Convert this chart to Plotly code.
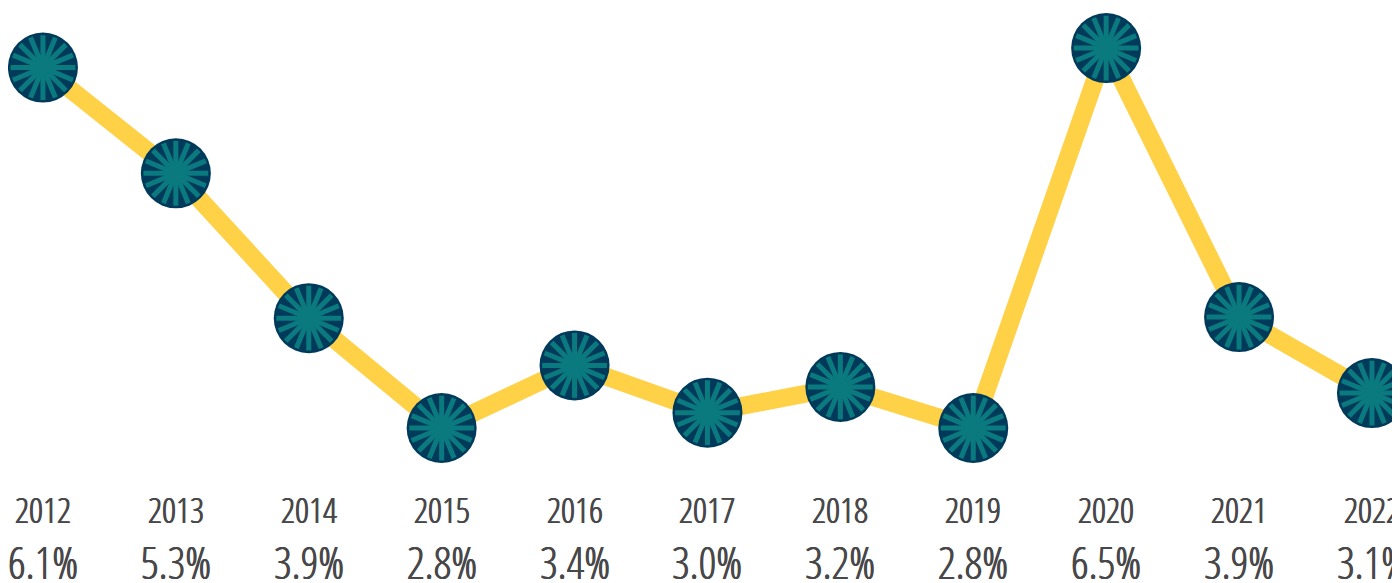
import plotly.graph_objects as go

years = [2012, 2013, 2014, 2015, 2016, 2017, 2018, 2019, 2020, 2021, 2022]
# plotted heights
rate_plotted = [6.31, 5.28, 3.87, 2.80, 3.41, 2.95, 3.20, 2.80, 6.50, 3.88, 3.14]
rate_labels = ["6.1%", "5.3%", "3.9%", "2.8%", "3.4%", "3.0%", "3.2%", "2.8%", "6.5%", "3.9%", "3.1%"]

LINE = "#FFD147"
NAVY = "#003A5B"
TEAL = "#0A7A7F"
TEXT = "#48484A"
FONT = "Open Sans Condensed Light, DejaVu Sans Condensed, sans-serif"
SHADOW = "0.45px 0 0 #48484A, -0.45px 0 0 #48484A"

W, H = 1392, 575

fig = go.Figure()
fig.add_trace(go.Scatter(x=years, y=rate_plotted, mode="lines",
                         line=dict(color=LINE, width=18), hoverinfo="skip"))
fig.add_trace(go.Scatter(x=years, y=rate_plotted, mode="markers",
                         marker=dict(size=70, color=NAVY, line=dict(width=0))))
for ang in (0, 22.5):
    fig.add_trace(go.Scatter(x=years, y=rate_plotted, mode="markers",
                             marker=dict(symbol="asterisk-open", size=54, angle=ang,
                                         color=TEAL, line=dict(color=TEAL, width=5))))

annotations = []
for yr, lab in zip(years, rate_labels):
    annotations.append(dict(x=yr, y=501, xref="x", yref="paper", text=str(yr),
                            showarrow=False,
                            font=dict(family=FONT, size=35, color=TEXT, shadow=SHADOW),
                            xanchor="center", yanchor="middle"))
    annotations.append(dict(x=yr, y=554, xref="x", yref="paper", text=lab,
                            showarrow=False,
                            font=dict(family=FONT, size=44, color=TEXT, shadow=SHADOW),
                            xanchor="center", yanchor="middle"))
for a in annotations:
    a["y"] = 1 - a["y"] / H

fig.update_layout(
    width=W, height=H,
    margin=dict(l=0, r=0, t=0, b=0),
    paper_bgcolor="white", plot_bgcolor="white",
    showlegend=False,
    xaxis=dict(range=[2011.737, 2022.211], visible=False, fixedrange=True),
    yaxis=dict(range=[1.291, 6.89], visible=False, fixedrange=True),
    annotations=annotations,
)
fig.write_html("out.html")
